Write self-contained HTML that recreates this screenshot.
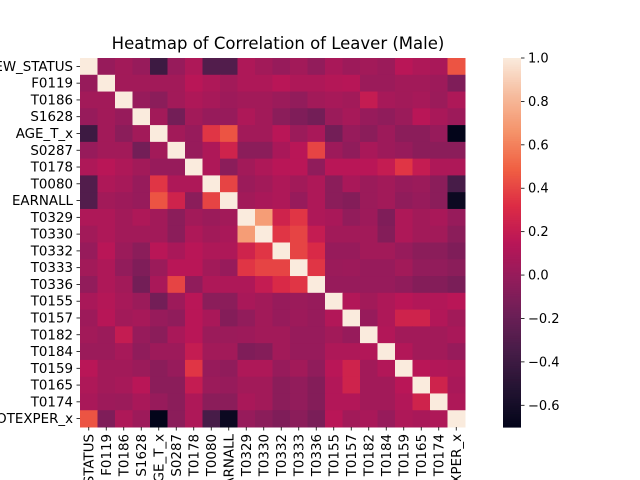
<!DOCTYPE html>
<html><head><meta charset="utf-8"><style>
html,body{margin:0;padding:0;background:#fff;width:640px;height:480px;overflow:hidden;}
svg{display:block;}
svg text{font-family:"DejaVu Sans","Liberation Sans",sans-serif;fill:#000;}
</style></head><body>
<svg id="chart" width="640" height="480" viewBox="0 0 640 480" xmlns="http://www.w3.org/2000/svg" overflow="hidden">
<text x="278" y="49" font-size="16.5" text-anchor="middle">Heatmap of Correlation of Leaver (Male)</text>
<g id="cells"></g>
<g id="ylab"></g>
<g id="xlab"></g>
<g id="cbar"></g>
</svg>
<script>
const labels=["NEW_STATUS","F0119","T0186","S1628","AGE_T_x","S0287","T0178","T0080","EARNALL","T0329","T0330","T0332","T0333","T0336","T0155","T0157","T0182","T0184","T0159","T0165","T0174","TOTEXPER_x"];
const row0=[1,0.0,0.05,0.0,-0.4,0.0,0.1,-0.3,-0.3,0.1,0.05,0.0,0.05,-0.02,0.08,0.03,0.05,0.02,0.15,0.1,0.08,0.45];
const row1=[0,1,0.05,0.05,0.05,0.05,0.15,0.1,0.05,0.1,0.1,0.15,0.1,0.1,0.13,0.14,0.02,0.02,0.05,0.05,0.03,-0.1];
const row2=[0.05,0.05,1,0.0,-0.05,0.05,0.1,0.07,0.03,0.05,0.05,0.02,-0.02,0.05,0.07,0.05,0.2,0.07,0.05,0.07,0.02,0.1];
const row3=[0,0.05,0,1,0.05,-0.15,0.05,0.0,0.0,0.1,0.05,-0.05,-0.1,-0.15,0.02,0.07,0.0,-0.03,0.02,0.15,0.08,0.03];
const row4=[-0.4,0.05,-0.05,0.05,1,0.05,0.0,0.35,0.45,0.05,0.05,0.15,0.02,0.08,-0.15,0.0,-0.05,0.03,-0.05,-0.05,0.0,-0.7];
const row5=[0,0.05,0.05,-0.15,0.05,1,0.0,0.1,0.25,-0.05,-0.05,0.08,0.15,0.4,0.03,-0.03,0.08,0.03,0.0,-0.05,-0.05,-0.05];
const row6=[0.1,0.15,0.1,0.05,0,0,1,0.1,-0.05,0.05,0.1,0.15,0.15,-0.03,0.15,0.15,0.15,0.2,0.35,0.2,0.1,0.1];
const row7=[-0.3,0.1,0.07,0,0.35,0.1,0.1,1,0.4,0.02,0.05,0.1,0.05,0.1,-0.05,0.08,0.02,0.05,0.0,0.02,-0.05,-0.35];
const row8=[-0.3,0.05,0.03,0,0.45,0.25,-0.05,0.4,1,0.05,0.08,0.1,0.0,0.1,-0.05,-0.08,0.02,0.05,-0.03,0.0,-0.05,-0.65];
const row9=[0.1,0.1,0.05,0.1,0.05,-0.05,0.05,0.02,0.05,1,0.7,0.25,0.35,0.1,0.08,-0.02,0.03,-0.1,0.1,0.05,0.08,0.0];
const row10=[0.05,0.1,0.05,0.05,0.05,-0.05,0.1,0.05,0.08,0.7,1,0.35,0.4,0.2,0.05,0.05,0.05,-0.08,0.1,0.05,0.05,-0.05];
const row11=[0,0.15,0.02,-0.05,0.15,0.08,0.15,0.1,0.1,0.25,0.35,1,0.4,0.3,0.0,0.0,0.05,0.05,0.0,-0.05,-0.05,-0.1];
const row12=[0.05,0.1,-0.02,-0.1,0.02,0.15,0.15,0.05,0.0,0.35,0.4,0.4,1,0.35,0.02,0.03,0.0,0.0,0.05,-0.02,-0.02,-0.05];
const row13=[-0.02,0.1,0.05,-0.15,0.08,0.4,-0.03,0.1,0.1,0.1,0.2,0.3,0.35,1,0.0,0.0,0.0,0.0,-0.03,-0.08,-0.08,-0.12];
const row14=[0.08,0.13,0.07,0.02,-0.15,0.03,0.15,-0.05,-0.05,0.08,0.05,0.0,0.02,0.0,1,0.12,0.05,0.1,0.15,0.12,0.12,0.15];
const row15=[0.03,0.14,0.05,0.07,0.0,-0.03,0.15,0.08,-0.08,-0.02,0.05,0.0,0.03,0,0.12,1,0.0,0.1,0.25,0.25,0.12,0.05];
const row16=[0.05,0.02,0.2,0,-0.05,0.08,0.15,0.02,0.02,0.03,0.05,0.05,0,0,0.05,0,1,0.12,0.05,0.05,0.05,0.08];
const row17=[0.02,0.02,0.07,-0.03,0.03,0.03,0.2,0.05,0.05,-0.1,-0.08,0.05,0,0,0.1,0.1,0.12,1,0.12,0.05,0.05,0.0];
const row18=[0.15,0.05,0.05,0.02,-0.05,0,0.35,0,-0.03,0.1,0.1,0,0.05,-0.03,0.15,0.25,0.05,0.12,1,0.15,0.12,0.1];
const row19=[0.1,0.05,0.07,0.15,-0.05,-0.05,0.2,0.02,0,0.05,0.05,-0.05,-0.02,-0.08,0.12,0.25,0.05,0.05,0.15,1,0.25,0.08];
const row20=[0.08,0.03,0.02,0.08,0,-0.05,0.1,-0.05,-0.05,0.08,0.05,-0.05,-0.02,-0.08,0.12,0.12,0.05,0.05,0.12,0.25,1,0.1];
const row21=[0.45,-0.1,0.1,0.03,-0.7,-0.05,0.1,-0.35,-0.65,0,-0.05,-0.1,-0.05,-0.12,0.15,0.05,0.08,0,0.1,0.08,0.1,1];
const matrix=[row0,row1,row2,row3,row4,row5,row6,row7,row8,row9,row10,row11,row12,row13,row14,row15,row16,row17,row18,row19,row20,row21];
const cbTicks=[1.0,0.8,0.6,0.4,0.2,0.0,-0.2,-0.4,-0.6];
const vmin=-0.7,vmax=1.0;
const X0=80,X1=465,Y0=58,Y1=427;
const n=labels.length,cw=(X1-X0)/n,ch=(Y1-Y0)/n;
const NS="http://www.w3.org/2000/svg";
const stops=["#03051A","#221331","#451C47","#6A1F56","#921C5B","#B91657","#DD2C45","#F06043","#F5936A","#F6BC9E","#FAEBDD"];
function hx(c){return [1,3,5].map(i=>parseInt(c.substr(i,2),16));}
function color(v){let t=(v-vmin)/(vmax-vmin);t=Math.max(0,Math.min(1,t));const p=t*10,i=Math.min(9,Math.floor(p)),f=p-i;const a=hx(stops[i]),b=hx(stops[i+1]);return "rgb("+a.map((x,k)=>Math.round(x+(b[k]-x)*f)).join(",")+")";}
function xs(i){return X0+i*cw;}
function ys(i){return Y0+i*ch;}
const cells=document.getElementById('cells');
matrix.forEach((row,r)=>row.forEach((v,c)=>{
 const e=document.createElementNS(NS,'rect');
 
 
 e.setAttribute('x',xs(c));e.setAttribute('y',ys(r));e.setAttribute('width',cw+0.5);e.setAttribute('height',ch+0.5);e.setAttribute('fill',color(v));
 cells.appendChild(e);
}));
const yl=document.getElementById('ylab'),xl=document.getElementById('xlab');
labels.forEach((l,i)=>{
 const t=document.createElementNS(NS,'text');
 
 
 t.setAttribute('x',X0-7);t.setAttribute('y',ys(i)+ch/2+4.5);t.setAttribute('text-anchor','end');t.setAttribute('font-size','13.4');t.textContent=l;yl.appendChild(t);
 const k=document.createElementNS(NS,'line');
 
 
 k.setAttribute('x1',X0-3.5);k.setAttribute('x2',X0);k.setAttribute('y1',ys(i)+ch/2);k.setAttribute('y2',ys(i)+ch/2);k.setAttribute('stroke','#000');k.setAttribute('stroke-width','0.8');yl.appendChild(k);
 const cx=xs(i)+cw/2;
 const k2=document.createElementNS(NS,'line');
 
 
 k2.setAttribute('x1',cx);k2.setAttribute('x2',cx);k2.setAttribute('y1',Y1);k2.setAttribute('y2',Y1+3.5);k2.setAttribute('stroke','#000');k2.setAttribute('stroke-width','0.8');xl.appendChild(k2);
 const t2=document.createElementNS(NS,'text');
 
 
 t2.setAttribute('transform','translate('+(cx+4.5)+','+(Y1+7)+') rotate(-90)');t2.setAttribute('text-anchor','end');t2.setAttribute('font-size','13.4');t2.textContent=l;xl.appendChild(t2);
});
const cb=document.getElementById('cbar');
const CX0=503,CX1=521;
function cy(v){return Y0+(vmax-v)/(vmax-vmin)*(Y1-Y0);}
for(let j=0;j<200;j++){
 const v0=vmax-j*(vmax-vmin)/200;
 const e=document.createElementNS(NS,'rect');
 
 
 e.setAttribute('x',CX0);e.setAttribute('y',cy(v0));e.setAttribute('width',CX1-CX0);e.setAttribute('height',(Y1-Y0)/200+0.6);e.setAttribute('fill',color(v0-(vmax-vmin)/400));cb.appendChild(e);
}
cbTicks.forEach(v=>{
 const k=document.createElementNS(NS,'line');
 
 
 k.setAttribute('x1',CX1);k.setAttribute('x2',CX1+3.5);k.setAttribute('y1',cy(v));k.setAttribute('y2',cy(v));k.setAttribute('stroke','#000');k.setAttribute('stroke-width','0.8');cb.appendChild(k);
 const t=document.createElementNS(NS,'text');
 
 
 t.setAttribute('x',CX1+7);t.setAttribute('y',cy(v)+4.5);t.setAttribute('font-size','13');t.textContent=(v<0?'\u2212':'')+Math.abs(v).toFixed(1);cb.appendChild(t);
});
</script>
</body></html>
